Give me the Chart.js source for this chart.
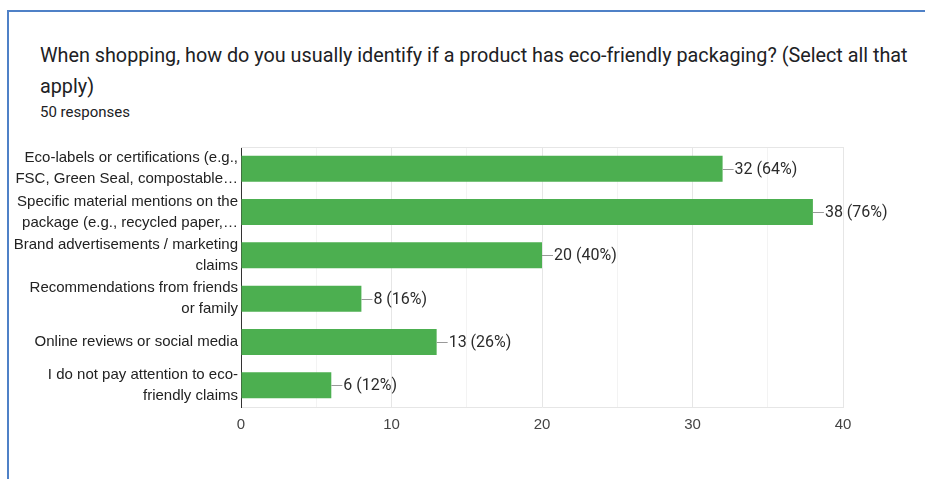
<!DOCTYPE html>
<html>
<head>
<meta charset="utf-8">
<script src="https://cdn.jsdelivr.net/npm/chart.js@4"></script>
<style>
    body { margin: 0; background: #fff; width: 925px; height: 479px; overflow: hidden; position: relative; }
    .card {
        position: absolute; left: 7px; top: 10px; width: 930px; height: 480px;
        border-left: 2px solid #4f81c7; border-top: 2px solid #4f81c7;
    }
    .title {
        position: absolute; left: 40px; top: 40px; width: 880px;
        font: 19.8px Roboto, sans-serif; line-height: 31px; color: #202124;
    }
    .sub {
        position: absolute; left: 40px; top: 103px;
        font: 15px Roboto, sans-serif; color: #202124;
    }
    #wrap { position: absolute; left: 0; top: 140px; width: 925px; height: 300px; }
</style>
</head>
<body>
<div class="card"></div>
<div class="title">When shopping, how do you usually identify if a product has eco-friendly packaging? (Select all that apply)</div>
<div class="sub">50 responses</div>
<div id="wrap"><canvas id="barChart"></canvas></div>

<script>
const responses = 50;
const categories = [
    ['Eco-labels or certifications (e.g.,', 'FSC, Green Seal, compostable\u2026'],
    ['Specific material mentions on the', 'package (e.g., recycled paper,\u2026'],
    ['Brand advertisements / marketing', 'claims'],
    ['Recommendations from friends', 'or family'],
    'Online reviews or social media',
    ['I do not pay attention to eco-', 'friendly claims']
];
const counts = [32, 38, 20, 8, 13, 6];
const xTicks = [0, 10, 20, 30, 40];

// leader line + "n (p%)" next to each bar, plus the light frame on top/right
const valueLabels = {
    id: 'valueLabels',
    afterDatasetsDraw(chart) {
        const ctx = chart.ctx;
        const area = chart.chartArea;
        ctx.save();
        ctx.strokeStyle = '#e6e6e6';
        ctx.lineWidth = 1;
        ctx.beginPath();
        ctx.moveTo(area.left, area.top + 0.5);
        ctx.lineTo(area.right + 0.5, area.top + 0.5);
        ctx.lineTo(area.right + 0.5, area.bottom);
        ctx.stroke();

        const meta = chart.getDatasetMeta(0);
        ctx.font = '16px Roboto, sans-serif';
        ctx.fillStyle = '#2b2b2b';
        ctx.textBaseline = 'middle';
        ctx.strokeStyle = '#999';
        meta.data.forEach((bar, i) => {
            const y = Math.round(bar.y) + 0.5;
            ctx.beginPath();
            ctx.moveTo(bar.x, y);
            ctx.lineTo(bar.x + 11, y);
            ctx.stroke();
            const pct = Math.round(counts[i] / responses * 100);
            ctx.fillText(counts[i] + ' (' + pct + '%)', bar.x + 12, bar.y + 1);
        });
        ctx.restore();
    }
};

new Chart('barChart', {
    type: 'bar',
    data: {
        labels: categories,
        datasets: [{
            data: counts,
            backgroundColor: '#4caf50',
            borderWidth: 0,
            categoryPercentage: 0.6,
            barPercentage: 1
        }]
    },
    plugins: [valueLabels],
    options: {
        indexAxis: 'y',
        responsive: true,
        maintainAspectRatio: false,
        animation: false,
        events: [],
        layout: { padding: { top: 7, right: 82, bottom: 7, left: 0 } },
        plugins: {
            legend: { display: false },
            tooltip: { enabled: false }
        },
        scales: {
            x: {
                min: 0, max: 40,
                afterFit: s => { s.height = 26; s.paddingLeft = 0; s.paddingRight = 0; },
                afterBuildTicks: s => {
                    s.ticks = [0, 5, 10, 15, 20, 25, 30, 35, 40].map(v => ({ value: v }));
                },
                ticks: {
                    padding: 9,
                    autoSkip: false,
                    maxRotation: 0,
                    color: '#444',
                    font: { family: '"Liberation Sans", Arial', size: 15 },
                    callback: v => xTicks.includes(v) ? v : ''
                },
                grid: {
                    drawTicks: false,
                    color: c => (c.tick && c.tick.value % 10 === 0) ? '#e6e6e6' : '#f3f3f3'
                },
                border: { color: '#e6e6e6' }
            },
            y: {
                afterFit: s => { s.width = 241; s.paddingTop = 0; s.paddingBottom = 0; },
                ticks: {
                    padding: 3,
                    autoSkip: false,
                    color: '#222',
                    font: { family: '"Liberation Sans", Arial', size: 15, lineHeight: 1.4 }
                },
                grid: { display: false, drawTicks: false },
                border: { color: '#333', width: 1 }
            }
        }
    }
});
</script>
</body>
</html>
